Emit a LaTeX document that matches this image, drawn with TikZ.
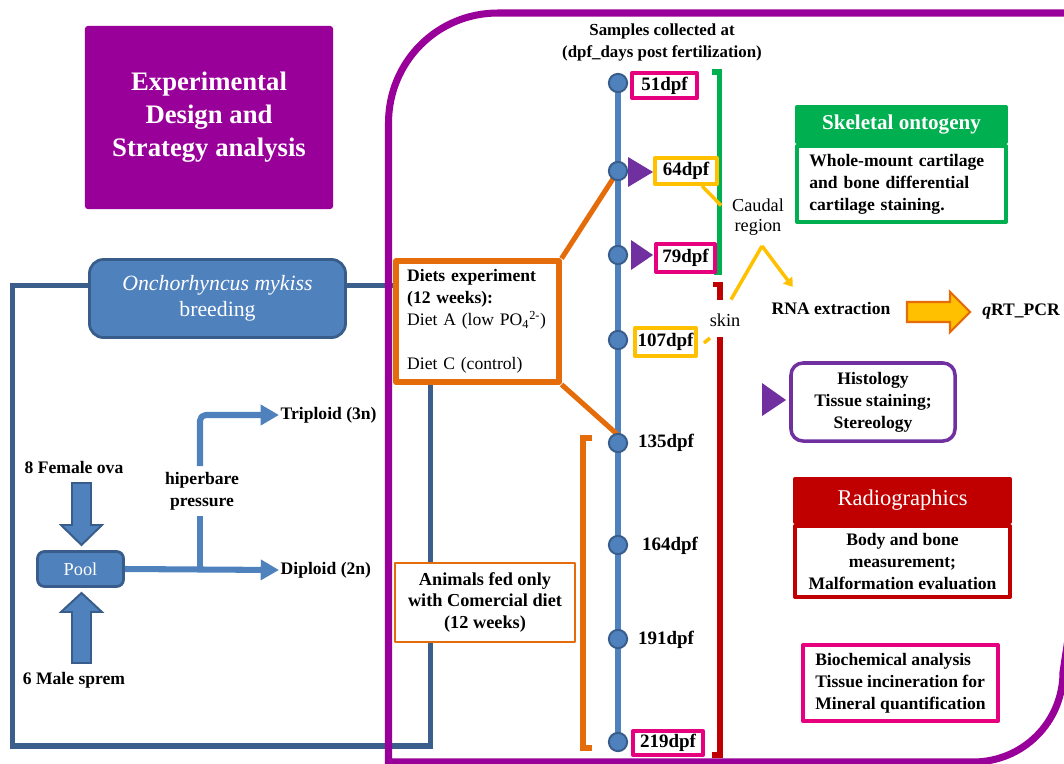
\documentclass[tikz,border=0pt]{standalone}
\usepackage{fontspec}
\setmainfont{Liberation Serif}
\usetikzlibrary{arrows.meta,calc,backgrounds}
\definecolor{fpurple}{HTML}{990099}
\definecolor{dblue}{HTML}{3B5E8C}
\definecolor{mblue}{HTML}{4F81BD}
\definecolor{bbord}{HTML}{385D8A}
\definecolor{dorange}{HTML}{E46C0A}
\definecolor{gold}{HTML}{FFC000}
\definecolor{mgt}{HTML}{E6007E}
\definecolor{grn}{HTML}{00B050}
\definecolor{dred}{HTML}{C00000}
\definecolor{vio}{HTML}{7030A0}
\newcommand{\pw}[1]{#1*0.7113pt}
\newcommand{\bft}{\fontsize{12.5}{15.6}\selectfont\bfseries}
\newcommand{\rgt}{\fontsize{12.5}{15.6}\selectfont}
\newcommand{\dpft}{\fontsize{13.5}{16}\selectfont\bfseries}
\begin{document}
\begin{tikzpicture}[x=0.025cm, y=-0.025cm, font=\bft, line join=round,
  frame/.style={draw=fpurple, line width=5pt},
  bline/.style={draw=dblue, line width=3.6pt},
  tline/.style={draw=mblue, line width=3.6pt},
  dot/.style={circle, fill=mblue, draw=bbord, line width=1.4pt, minimum size=13pt, inner sep=0pt},
  lbox/.style={draw, line width=2.8pt, fill=white, inner sep=0pt, font=\dpft},
  dpflab/.style={font=\dpft},
  oline/.style={draw=dorange, line width=3.6pt},
  yline/.style={draw=gold, line width=2.5pt},
  bracket/.style={line width=3.6pt},
  pline/.style={draw=mblue, line width=4.3pt},
  blockarrow/.style={fill=mblue, draw=bbord, line width=1.4pt, line join=miter},
  bluebox/.style={fill=mblue, draw=bbord, line width=2pt, text=white, align=center},
  vtri/.style={fill=vio}
]
\useasboundingbox (0,0) rectangle (1064,763);
\clip (0,0) rectangle (1064,763);

% title
\node[fill=fpurple, text=white, align=center, rounded corners=2pt,
  minimum width=\pw{248}, minimum height=\pw{183},
  font=\fontsize{19}{23.5}\selectfont\bfseries] (title) at (209,117.5)
  {Experimental\\Design and\\Strategy analysis};

% breeding
\node[bluebox, rounded corners=\pw{14}, minimum width=\pw{256}, minimum height=\pw{78},
  font=\fontsize{15.5}{18.5}\selectfont] (onch) at (217.5,298.5)
  {\textit{Onchorhyncus mykiss}\\breeding};

\node[bluebox, rounded corners=\pw{7}, minimum width=\pw{86}, minimum height=\pw{35},
  font=\fontsize{13}{15}\selectfont] (pool) at (80.5,569) {Pool};

\node (fem) at (74,467) {8 Female ova};
\node (male) at (74,680) {6 Male sprem};
\node[anchor=west, inner sep=1pt] (trip) at (279,415) {Triploid (3n)};
\node[anchor=west, inner sep=1pt] (dip) at (279,570) {Diploid (2n)};
\node[align=center, inner sep=4pt] (hiper) at (202,491) {hiperbare\\pressure};

% block arrows
\draw[blockarrow] (72,483) -- (91,483) -- (91,525) -- (102,525) -- (81.5,545) -- (61,525) -- (72,525) -- cycle;
\draw[blockarrow] (72,663) -- (91,663) -- (91,612) -- (102,612) -- (81.5,593) -- (61,612) -- (72,612) -- cycle;

\coordinate (br) at (200,569);
\draw[pline, -{Triangle[length=13pt,width=14pt]}] (pool.east) -- (dip.west);
\draw[pline] (br) -- (br |- hiper.south);
\draw[pline, rounded corners=4pt, -{Triangle[length=13pt,width=14pt]}] (br |- hiper.north) |- (trip.west);

% diet box
\node[draw=dorange, line width=3.6pt, fill=white, minimum width=\pw{163}, minimum height=\pw{121},
  text width=100pt, align=left, font=\rgt] (diet) at (477.5,321.5)
  {\textbf{Diets experiment}\\\textbf{(12 weeks):}\\\mbox{Diet A (low PO\textsubscript{4}\textsuperscript{2-})}\\[15.6pt]Diet C (control)};

\node[draw=dorange, line width=1.6pt, fill=white, minimum width=\pw{180}, minimum height=\pw{79},
  align=center, font=\fontsize{13}{15.6}\selectfont\bfseries] (comm) at (485,602.5)
  {Animals fed only\\with Comercial diet\\(12 weeks)};

\node[align=center, font=\fontsize{12}{15.2}\selectfont\bfseries] (samples) at (662,42.5)
  {Samples collected at\\(dpf\_days post fertilization)};

% timeline coordinates
\coordinate (c51) at (618,83);
\coordinate (c64) at (618,171);
\coordinate (c79) at (618,255);
\coordinate (c107) at (618,340);
\coordinate (c135) at (618,443);
\coordinate (c164) at (618,545);
\coordinate (c191) at (618,639);
\coordinate (c219) at (618,742);

% labels
\node[lbox, draw=mgt, minimum width=\pw{65}, minimum height=\pw{25}] (l51) at (664.5,85.5) {51dpf};
\node[lbox, draw=gold, minimum width=\pw{62}, minimum height=\pw{26}] (l64) at (686,171) {64dpf};
\node[lbox, draw=mgt, minimum width=\pw{59}, minimum height=\pw{28}] (l79) at (685.5,258) {79dpf};
\node[lbox, draw=gold, minimum width=\pw{61}, minimum height=\pw{28}] (l107) at (665.5,342) {107dpf};
\node[dpflab] (l135) at (666,443) {135dpf};
\node[dpflab] (l164) at (670,546) {164dpf};
\node[dpflab] (l191) at (666,640) {191dpf};
\node[lbox, draw=mgt, minimum width=\pw{70}, minimum height=\pw{24}] (l219) at (668,743) {219dpf};

% dots
\foreach \d in {51,64,79,107,135,164,191,219} {\node[dot] (d\d) at (c\d) {};}

% purple markers
\fill[vtri] (628,157) -- (653,172) -- (628,187) -- cycle;
\fill[vtri] (631,240) -- (653,255) -- (631,270) -- cycle;

% right side texts
\node[align=center, font=\fontsize{13}{14.5}\selectfont] (caudal) at (758,217) {Caudal\\region};
\node[font=\fontsize{13}{15}\selectfont] (skin) at (725,320) {skin};
\node (rna) at (831,308) {RNA extraction};
\node (qrt) at (1021,312) {\textit{q}RT\_PCR};
\draw[fill=gold, draw=dorange, line width=1.5pt, line join=miter]
  (907,302) -- (950,302) -- (950,292) -- (970,312) -- (950,332) -- (950,322) -- (907,322) -- cycle;

% skeletal ontogeny
\node[fill=grn, draw=grn, line width=2.8pt, minimum width=\pw{209}, minimum height=\pw{35},
  text=white, font=\fontsize{15}{17}\selectfont\bfseries] (skelh) at (901.5,124.5) {Skeletal ontogeny};
\node[draw=grn, line width=2.8pt, fill=white, minimum width=\pw{209}, minimum height=\pw{76},
  anchor=north, align=left, text width=131pt] (skelb) at (skelh.south)
  {\makebox[131pt][s]{Whole-mount cartilage}\\\makebox[131pt][s]{and bone differential}\\cartilage staining.};

% histology
\node[draw=vio, line width=2.5pt, rounded corners=\pw{12}, minimum width=\pw{164}, minimum height=\pw{78},
  align=center] (histo) at (873,402) {Histology\\Tissue staining;\\Stereology};
\fill[vtri] (762,383) -- (786,400) -- (762,416) -- cycle;

% radiographics
\node[fill=dred, draw=dred, line width=2.8pt, minimum width=\pw{215}, minimum height=\pw{43},
  text=white, font=\fontsize{16}{18}\selectfont] (radh) at (902.5,500.5) {Radiographics};
\node[draw=dred, line width=2.8pt, fill=white, minimum width=\pw{215}, minimum height=\pw{71},
  anchor=north, align=center] (radb) at (radh.south) {Body and bone\\measurement;\\Malformation evaluation};

% biochemical
\node[draw=mgt, line width=2.8pt, minimum width=\pw{195}, minimum height=\pw{76}, align=left]
  (bio) at (900.5,683) {Biochemical analysis\\Tissue incineration for\\Mineral quantification};

\begin{scope}[on background layer]
  \coordinate (ow) at ($(onch.west)+(0,-13)$);
  \coordinate (oe) at ($(onch.east)+(0,-13)$);
  \coordinate (lb) at (430.5,746);
  \draw[bline] (ow) -| (12.5,746) -- (lb) -- (lb |- diet.south);
  \draw[bline] (oe) -- (oe -| diet.west);
  \draw[frame] (1075,13) -- (498,13) .. controls (437,13) and (388.5,62) .. (388.5,123)
     -- (388.5,762) -- (973,762) .. controls (1023,762) and (1063,722) .. (1063,672) -- (1080,560);
  \draw[tline] (c51) -- (c219);
  \draw[oline] (diet.north east) -- (c64);
  \draw[oline] (diet.south east) -- ($(c135)+(0,-8)$);
  \draw[draw=grn, bracket] (712,72) -- (719.5,72) -- (719.5,272) -- (714,272);
  \draw[draw=dred, bracket] (713,284.5) -- (720,284.5) -- (720,300);
  \draw[draw=dred, bracket] (720,337) -- (720,755) -- (712,755);
  \draw[draw=dorange, bracket] (592,438) -- (583,438) -- (583,748) -- (592,748);
  \coordinate (apex) at (762,246);
  \draw[yline] ($(l64.south)+(16,0)$) -- ($(caudal.north west)+(-6,12)$);
  \draw[yline] ($(skin.north)+(6,-9)$) -- (apex);
  \draw[yline, -{Triangle[length=6pt,width=8pt]}] (apex) -- ($(rna.north west)+(26,-10)$);
  \draw[yline] ($(l107.east)+(6,1)$) -- ($(l107.east)+(12,-4)$);
\end{scope}
\end{tikzpicture}
\end{document}
